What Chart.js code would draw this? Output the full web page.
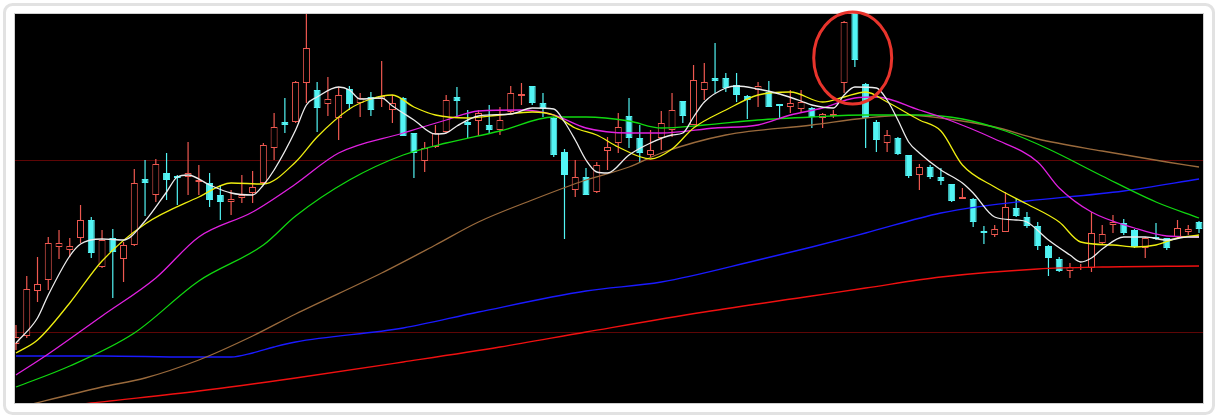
<!DOCTYPE html>
<html>
<head>
<meta charset="utf-8">
<script src="https://cdn.jsdelivr.net/npm/chart.js@4/dist/chart.umd.min.js"></script>
<style>
  html, body { margin: 0; padding: 0; background: #ffffff; }
  canvas { display: block; }
</style>
</head>
<body>
<canvas id="c" width="1218" height="418"></canvas>
<script>
// ---- Daily candles (price units), day index = array position ----
const opens = [
  5.9, 6.7, 11.2, 12.3, 15.6, 15.3, 16.5, 18.3, 13.6, 16.5,
  14.4, 15.8, 22.4, 20.8, 23.0, 22.7, 22.6, 22.1, 22.0, 20.8,
  20.1, 20.5, 21.0, 22.0, 25.5, 28.1, 28.1, 32.0, 31.3, 29.9,
  28.5, 31.4, 30.0, 30.6, 30.4, 29.3, 30.5, 27.0, 24.2, 25.6,
  27.1, 30.6, 28.1, 28.2, 27.8, 27.3, 29.1, 30.7, 31.7, 30.0,
  28.5, 25.1, 21.3, 22.6, 21.1, 25.2, 26.0, 28.7, 26.5, 24.8,
  26.5, 27.3, 30.2, 27.8, 31.3, 32.5, 32.5, 31.8, 30.7, 31.3,
  31.1, 29.9, 29.6, 29.4, 29.5, 28.5, 28.7, 32.0, 39.1, 31.9,
  28.1, 26.0, 26.5, 24.8, 22.8, 23.6, 22.6, 21.9, 20.4, 20.4,
  17.2, 16.8, 17.1, 19.5, 18.6, 17.7, 15.7, 14.4, 13.2, 13.5,
  13.5, 16.0, 17.8, 18.0, 17.3, 15.5, 16.6, 16.5, 16.6, 17.1,
  18.1
];
const closes = [
  6.6, 11.4, 11.9, 16.0, 16.0, 15.7, 18.3, 15.0, 16.3, 15.1,
  15.8, 22.0, 22.0, 23.9, 22.3, 22.5, 23.0, 22.3, 20.3, 20.1,
  20.4, 20.8, 21.6, 25.8, 27.6, 27.8, 32.1, 35.5, 29.5, 30.4,
  30.8, 29.9, 30.5, 29.3, 30.7, 30.0, 26.7, 25.0, 25.5, 27.0,
  30.3, 30.2, 27.8, 29.0, 27.3, 28.3, 31.0, 30.9, 30.0, 29.5,
  24.8, 22.8, 22.6, 20.8, 23.8, 25.6, 27.6, 26.5, 25.0, 25.3,
  28.0, 29.3, 28.7, 32.3, 32.1, 32.2, 31.5, 30.8, 30.3, 31.7,
  29.6, 29.7, 30.0, 30.1, 28.6, 28.9, 28.9, 38.1, 34.3, 28.5,
  26.3, 26.8, 24.9, 22.7, 23.6, 22.6, 22.2, 20.2, 20.6, 18.1,
  17.0, 17.4, 19.6, 18.7, 17.7, 15.7, 14.5, 13.2, 13.6, 13.6,
  17.0, 16.9, 18.1, 17.0, 15.6, 16.5, 16.4, 15.5, 17.5, 17.4,
  17.4
];
const highs = [
  7.8, 12.7, 14.6, 16.6, 17.3, 16.5, 19.8, 18.6, 17.3, 17.4,
  16.1, 23.4, 24.3, 24.4, 25.0, 22.8, 26.1, 23.8, 23.0, 21.8,
  21.3, 22.8, 23.2, 26.0, 29.0, 30.5, 32.2, 39.3, 32.1, 32.6,
  31.6, 31.7, 31.0, 31.1, 34.2, 30.8, 30.6, 27.0, 26.1, 27.8,
  30.8, 31.6, 29.3, 29.3, 29.8, 29.6, 31.7, 32.0, 31.7, 31.0,
  28.6, 25.4, 24.3, 23.5, 24.1, 26.6, 29.0, 30.5, 27.8, 27.3,
  29.2, 31.0, 30.2, 33.8, 34.0, 36.0, 33.0, 33.0, 30.8, 32.1,
  32.2, 29.9, 31.3, 31.3, 29.6, 29.0, 29.3, 38.2, 39.3, 32.0,
  28.3, 27.3, 26.6, 24.8, 23.9, 23.8, 23.5, 21.9, 21.5, 20.5,
  17.7, 17.8, 21.1, 20.5, 19.1, 18.1, 15.8, 14.6, 14.0, 13.9,
  19.1, 17.8, 18.8, 18.4, 17.4, 16.6, 18.0, 16.5, 18.3, 17.8,
  18.2
];
const lows = [
  5.3, 6.5, 10.1, 11.3, 14.4, 14.6, 16.0, 14.5, 13.5, 10.5,
  12.1, 15.7, 18.7, 20.1, 20.3, 19.8, 20.8, 20.8, 19.6, 18.3,
  18.8, 20.0, 20.0, 21.8, 24.3, 27.0, 28.0, 30.0, 27.1, 28.7,
  26.3, 29.3, 28.6, 28.7, 29.6, 28.0, 26.7, 22.5, 23.1, 25.5,
  27.0, 28.6, 26.5, 26.7, 27.0, 26.8, 29.0, 29.8, 29.8, 28.6,
  24.6, 16.4, 20.6, 20.8, 21.0, 23.3, 25.0, 25.5, 24.1, 24.5,
  25.3, 26.6, 28.0, 27.8, 30.3, 31.0, 31.1, 30.1, 28.4, 29.6,
  29.6, 28.5, 29.0, 29.0, 27.5, 27.5, 28.5, 31.0, 33.6, 25.5,
  25.1, 25.1, 24.8, 22.5, 21.3, 22.4, 21.8, 20.1, 20.4, 17.6,
  15.9, 16.6, 17.1, 18.6, 17.5, 15.3, 12.7, 13.1, 12.5, 13.3,
  13.1, 15.9, 17.0, 16.8, 15.5, 14.5, 16.3, 15.3, 16.5, 16.8,
  17.0
];

// ---- Moving averages (at these days) ----
const ma5Days = [0,2,3,5,6,8,10,12,14,15,16,18,20,22,23,24,26,27,28,30,31,32,34,35,37,39,40,41,43,46,48,50,51,52,53,54,55,57,59,61,62,63,64,66,67,69,71,73,74,76,77,78,80,81,82,83,84,86,88,89,91,93,94,96,98,99,100,101,103,105,107,109,110];
const ma5 = [6.0,8.5,10.8,14.7,15.9,16.4,16.3,18.2,21.1,22.6,22.8,21.8,21.0,20.8,21.8,23.3,27.3,29.8,30.6,31.6,31.3,30.4,30.5,29.7,28.3,26.9,27.0,27.7,28.7,28.9,29.5,29.4,28.1,26.3,24.3,23.1,23.0,24.8,26.0,26.8,27.0,28.6,30.1,31.5,31.7,31.4,30.9,30.2,29.8,29.5,30.8,31.6,31.5,30.3,28.3,26.1,25.0,23.3,22.0,21.0,18.6,18.3,18.1,16.3,14.8,14.1,14.5,15.4,16.6,16.6,16.3,16.6,16.6];

const ma10Days = [0,2,5,8,12,17,20,23,26,28,31,33,35,37,39,42,45,48,50,52,54,56,59,61,63,66,69,72,75,77,79,81,84,86,88,91,94,97,99,102,104,106,108,110];
const ma10 = [5.0,6.3,10.0,14.2,17.9,20.6,22.0,21.9,24.1,26.6,29.4,30.4,30.8,29.6,28.8,28.5,28.8,29.1,28.8,27.5,26.8,25.6,24.4,25.4,27.5,29.3,30.8,31.1,30.1,30.6,31.1,30.1,28.3,27.2,23.8,21.6,19.9,18.1,16.1,15.8,15.6,15.8,16.5,16.8];

const ma20Days = [0,3,8,13,17,22,26,30,36,40,43,47,50,53,57,60,65,69,72,75,78,80,84,86,91,95,97,100,104,107,110];
const ma20 = [2.8,4.9,8.7,12.5,16.6,19.1,21.9,25.0,27.0,28.3,29.2,29.3,28.8,27.5,27.0,27.0,27.5,27.8,28.8,29.5,30.5,30.6,29.3,28.6,26.4,24.1,21.5,19.1,17.5,16.7,16.6];

const ma30Days = [0,5,11,17,23,26,31,36,40,45,50,53,57,60,64,69,74,79,84,88,92,96,101,106,110];
const ma30 = [1.6,3.7,7.0,12.2,15.8,18.7,22.3,24.8,26.0,27.2,28.6,28.6,28.2,27.5,27.8,28.3,28.6,28.8,28.8,28.4,27.2,25.4,22.7,20.1,18.5];

const ma60Days = [0,8,12,17,22,26,34,39,43,48,53,57,60,66,74,79,83,86,91,95,101,107,110];
const ma60 = [-0.5,1.6,2.5,4.3,6.7,8.9,13.0,15.8,18.1,20.3,22.3,23.6,25.0,26.8,27.8,28.5,28.8,28.5,27.6,26.4,25.2,24.1,23.6];

const ma120Days = [0,8,16,20,22,24,26,36,43,53,60,69,74,79,86,90,94,103,110];
const ma120 = [4.7,4.7,4.6,4.6,5.0,5.6,6.1,7.5,9.1,11.2,12.1,14.3,15.6,17.0,19.0,19.7,20.2,21.2,22.4];

const ma250Days = [0,7,17,26,36,45,53,64,74,79,86,95,101,110];
const ma250 = [-0.9,0.0,1.2,2.5,4.1,5.6,7.1,9.1,10.7,11.5,12.6,13.4,13.6,13.7];

// reference levels (dark red separators) and highlighted spot
const gridLevels = [24.3, 7.1];
const highlight = { day: 77.8, price: 34.5 };

// ---- styling ----
const UP = '#ee5850';
const DOWN = '#52f4f4';
const maStyles = [
  { days: ma5Days,   vals: ma5,   color: '#ececec' },
  { days: ma10Days,  vals: ma10,  color: '#eeee10' },
  { days: ma20Days,  vals: ma20,  color: '#e020e0' },
  { days: ma30Days,  vals: ma30,  color: '#10d810' },
  { days: ma60Days,  vals: ma60,  color: '#9a6a3c' },
  { days: ma120Days, vals: ma120, color: '#1a1aff' },
  { days: ma250Days, vals: ma250, color: '#f01010' }
];

const isUp = opens.map((o, i) => closes[i] >= o);
const bodyData = opens.map((o, i) => ({ x: i, y: [o, closes[i]] }));
const wickData = lows.map((l, i) => ({ x: i, y: [l, highs[i]] }));

const lineSets = maStyles.map(s => ({
  type: 'line',
  data: s.days.map((d, k) => ({ x: d, y: s.vals[k] })),
  borderColor: s.color,
  borderWidth: 1.3,
  pointRadius: 0,
  cubicInterpolationMode: 'monotone',
  fill: false,
  clip: 0,
  order: 0
}));

const framePlugin = {
  id: 'frame',
  beforeDraw(chart) {
    const { ctx, chartArea: a, width, height } = chart;
    ctx.save();
    ctx.fillStyle = '#ffffff';
    ctx.fillRect(0, 0, width, height);
    // soft outer frame
    ctx.strokeStyle = '#e2e2e2';
    ctx.lineWidth = 3;
    ctx.beginPath();
    ctx.roundRect(4.5, 4.5, width - 9, height - 9, 8);
    ctx.stroke();
    // plot area
    ctx.fillStyle = '#000000';
    ctx.fillRect(a.left, a.top, a.right - a.left, a.bottom - a.top);
    ctx.strokeStyle = '#cfcfcf';
    ctx.lineWidth = 1;
    ctx.strokeRect(a.left - 0.5, a.top - 0.5, a.right - a.left + 1, a.bottom - a.top + 1);
    // separators
    const ys = chart.scales.y;
    ctx.strokeStyle = '#5e0606';
    ctx.beginPath();
    gridLevels.forEach(v => {
      const py = Math.round(ys.getPixelForValue(v)) + 0.5;
      ctx.moveTo(a.left, py);
      ctx.lineTo(a.right, py);
    });
    ctx.stroke();
    ctx.restore();
  },
  afterDatasetsDraw(chart) {
    const { ctx } = chart;
    const cx = chart.scales.x.getPixelForValue(highlight.day);
    const cy = chart.scales.y.getPixelForValue(highlight.price);
    ctx.save();
    ctx.strokeStyle = '#e8342c';
    ctx.lineWidth = 3;
    ctx.beginPath();
    ctx.ellipse(cx, cy, 39, 46, 0, 0, Math.PI * 2);
    ctx.stroke();
    ctx.restore();
  }
};

new Chart(document.getElementById('c'), {
  type: 'bar',
  data: {
    datasets: [
      ...lineSets,
      {
        type: 'bar',
        data: bodyData,
        grouped: false,
        barThickness: 7,
        borderWidth: 1,
        borderSkipped: false,
        inflateAmount: 0,
        backgroundColor: isUp.map(u => u ? '#000000' : DOWN),
        borderColor: isUp.map(u => u ? UP : DOWN),
        clip: 0,
        order: 1
      },
      {
        type: 'bar',
        data: wickData,
        grouped: false,
        barThickness: 1.2,
        borderWidth: 0,
        borderSkipped: false,
        inflateAmount: 0,
        backgroundColor: isUp.map(u => u ? UP : DOWN),
        clip: 0,
        order: 2
      }
    ]
  },
  options: {
    responsive: false,
    animation: false,
    events: [],
    layout: { padding: { left: 15, right: 15, top: 14, bottom: 15 } },
    plugins: { legend: { display: false }, tooltip: { enabled: false } },
    scales: {
      x: { type: 'linear', min: -0.093, max: 110.37, offset: false, display: false },
      y: { type: 'linear', min: 0, max: 38.9, display: false }
    }
  },
  plugins: [framePlugin]
});
</script>
</body>
</html>
